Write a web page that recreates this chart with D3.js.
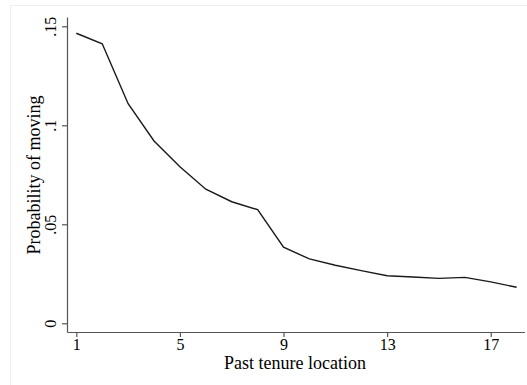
<!DOCTYPE html>
<html>
<head>
<meta charset="utf-8">
<script src="https://cdn.jsdelivr.net/npm/d3@7"></script>
<style>
  body { margin: 0; background: #fff; }
  text { font-family: "Liberation Serif", "DejaVu Serif", serif; fill: #000; }
</style>
</head>
<body>
<div id="chart"></div>
<script>
// data
var tenure = [1, 2, 3, 4, 5, 6, 7, 8, 9, 10, 11, 12, 13, 14, 15, 16, 17, 18];
var probMove = [0.1465, 0.1412, 0.1109, 0.0921, 0.0791, 0.0677, 0.0614, 0.0574, 0.0384,
                0.0325, 0.0293, 0.0266, 0.0240, 0.0234, 0.0227, 0.0232, 0.0209, 0.0182];
var xTicks = [1, 5, 9, 13, 17];
var yTicks = [0, 0.05, 0.1, 0.15];
var yTickLabels = ["0", ".05", ".1", ".15"];

var width = 527, height = 385;

var svg = d3.select("#chart")
    .append("svg")
    .attr("width", width)
    .attr("height", height);

// faint outer frame
svg.append("rect")
    .attr("x", 10.5).attr("y", 5.5)
    .attr("width", 530).attr("height", 400)
    .attr("fill", "none")
    .attr("stroke", "#eeeeee");

var x = d3.scaleLinear()
    .domain([0.64, 18.3])
    .range([67, 524.4]);

var y = d3.scaleLinear()
    .domain([-0.0044, 0.1547])
    .range([332, 17]);

// axes
var xAxis = svg.append("g")
    .attr("transform", "translate(0,332)")
    .call(d3.axisBottom(x).tickValues(xTicks).tickSize(5).tickPadding(2).tickSizeOuter(0));

var yAxis = svg.append("g")
    .attr("transform", "translate(67,0)")
    .call(d3.axisLeft(y).tickValues(yTicks).tickSize(5).tickSizeOuter(0)
        .tickFormat(function (d, i) { return yTickLabels[i]; }));

svg.selectAll(".domain, .tick line")
    .attr("stroke", "#555")
    .attr("stroke-width", 1.2);

xAxis.selectAll("text")
    .attr("font-size", 16)
    .attr("font-family", "Liberation Serif")
    .attr("fill", "#000");

yAxis.selectAll(".tick text")
    .attr("font-size", 16)
    .attr("font-family", "Liberation Serif")
    .attr("fill", "#000")
    .attr("text-anchor", "middle")
    .attr("x", 0)
    .attr("dy", 0)
    .attr("transform", "translate(-11,0) rotate(-90)");

// axis titles
svg.append("text")
    .attr("x", 295)
    .attr("y", 369)
    .attr("text-anchor", "middle")
    .attr("font-size", 18)
    .text("Past tenure location");

svg.append("text")
    .attr("transform", "translate(40,175) rotate(-90)")
    .attr("text-anchor", "middle")
    .attr("font-size", 18)
    .text("Probability of moving");

// the line
var line = d3.line()
    .x(function (d, i) { return x(tenure[i]); })
    .y(function (d) { return y(d); });

svg.append("path")
    .datum(probMove)
    .attr("fill", "none")
    .attr("stroke", "#1a1a1a")
    .attr("stroke-width", 1.4)
    .attr("d", line);
</script>
</body>
</html>
